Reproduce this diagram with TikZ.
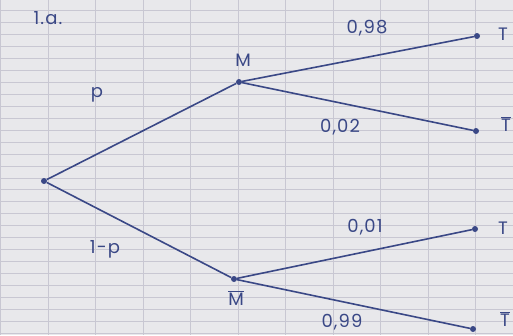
\documentclass[tikz,border=0pt]{standalone}
\usepackage{fontspec}
\setmainfont{Poppins}[LetterSpace=6]
\definecolor{paper}{HTML}{E8E8EB}
\definecolor{gridc}{HTML}{C8C7D2}
\definecolor{ink}{HTML}{3A4886}
\begin{document}
\begin{tikzpicture}[x=1pt,y=-1pt,
  dot/.style={circle,fill=ink,inner sep=0pt,minimum size=6pt},
  branch/.style={draw=ink,line width=1.6pt},
  lbl/.style={text=ink,font=\fontsize{18}{20}\selectfont,inner sep=1pt}]
\fill[paper] (0,0) rectangle (513,335);
\useasboundingbox (0,0) rectangle (513,335);
\foreach \k in {0,...,27} {\draw[gridc,line width=0.6pt] (0,10.5+11.95*\k) -- (513,10.5+11.95*\k);}
\foreach \k in {0,...,10} {\draw[gridc,line width=1pt] (0.5+47.5*\k,0) -- (0.5+47.5*\k,335);}
\node[dot] (r) at (44,181) {};
\node[dot] (m) at (239,82) {};
\node[dot] (mb) at (234,279) {};
\node[dot] (t1) at (477,36) {};
\node[dot] (t1b) at (476,131) {};
\node[dot] (t2) at (475,229) {};
\node[dot] (t2b) at (473,329) {};
\draw[branch] (r) -- (m);
\draw[branch] (r) -- (mb);
\draw[branch] (m) -- (t1);
\draw[branch] (m) -- (t1b);
\draw[branch] (mb) -- (t2);
\draw[branch] (mb) -- (t2b);
\node[lbl] (title) at (48,18) {1.a.};
\node[lbl] (lm) at (243,60) {M};
\node[lbl] (lmb) at (236,298) {$\overline{\mbox{M}}$};
\node[lbl] (lt1) at (503,34) {T};
\node[lbl] (lt1b) at (506,124) {$\overline{\mbox{T}}$};
\node[lbl] (lt2) at (503,228) {T};
\node[lbl] (lt2b) at (505,319) {$\overline{\mbox{T}}$};
\node[lbl] (pp) at (97,95) {p};
\node[lbl] (qq) at (105,249) {1-p};
\node[lbl] (a) at (367,28) {0,98};
\node[lbl] (b) at (340,127) {0,02};
\node[lbl] (c) at (365,227) {0,01};
\node[lbl] (d) at (342,322) {0,99};
\end{tikzpicture}
\end{document}
